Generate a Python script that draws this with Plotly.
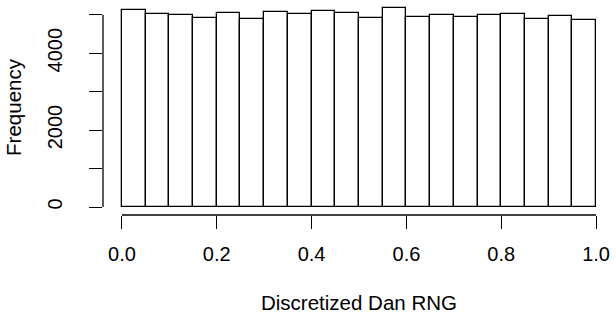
import plotly.graph_objects as go

# Histogram bins (centers) of the discretized values, bin width 0.05
bin_centers = [0.025, 0.075, 0.125, 0.175, 0.225, 0.275, 0.325, 0.375, 0.425, 0.475,
               0.525, 0.575, 0.625, 0.675, 0.725, 0.775, 0.825, 0.875, 0.925, 0.975]
bin_width = 0.05
frequency = [5112, 5008, 4992, 4922, 5052, 4878, 5060, 5018, 5096, 5044,
             4922, 5174, 4948, 4982, 4940, 5000, 5026, 4896, 4956, 4870]

x_ticks = [0.0, 0.2, 0.4, 0.6, 0.8, 1.0]
x_tick_labels = ["0.0", "0.2", "0.4", "0.6", "0.8", "1.0"]
y_ticks = [0, 1000, 2000, 3000, 4000, 5000]
y_tick_labels = ["0", "", "2000", "", "4000", ""]

FONT = "Liberation Sans, Arial, Helvetica, sans-serif"

ymax = max(frequency)
x_lo, x_hi = 0.0, 1.0
x_pad = 0.04 * (x_hi - x_lo)
y_pad = 0.04 * ymax

fig = go.Figure(
    go.Bar(
        x=bin_centers,
        y=frequency,
        width=bin_width,
        marker=dict(color="white", line=dict(color="black", width=1.3)),
        hoverinfo="x+y",
    )
)

fig.update_layout(
    width=616,
    height=314,
    margin=dict(l=103, r=1, t=0, b=99),
    paper_bgcolor="white",
    plot_bgcolor="white",
    bargap=0,
    showlegend=False,
    font=dict(family=FONT, size=20, color="black"),
    xaxis=dict(
        range=[x_lo - x_pad, x_hi + x_pad],
        tickvals=x_ticks,
        ticktext=x_tick_labels,
        ticks="outside",
        ticklen=13,
        tickwidth=1.3,
        tickcolor="black",
        showline=False,
        showgrid=False,
        zeroline=False,
        ticklabelstandoff=8,
        tickfont=dict(family=FONT, size=20, color="black"),
        title=dict(text="Discretized Dan RNG", standoff=33,
                   font=dict(family=FONT, size=20.5, color="black")),
        automargin=False,
    ),
    yaxis=dict(
        range=[-y_pad, ymax + y_pad],
        tickvals=y_ticks,
        ticktext=y_tick_labels,
        tickangle=-90,
        ticks="outside",
        ticklen=13,
        tickwidth=1.3,
        tickcolor="black",
        showline=False,
        showgrid=False,
        zeroline=False,
        ticklabelstandoff=19,
        tickfont=dict(family=FONT, size=20, color="black"),
        title=dict(text="Frequency", standoff=16,
                   font=dict(family=FONT, size=20.5, color="black")),
        automargin=False,
    ),
    shapes=[
        # R-style detached axis lines spanning only the tick range
        dict(type="line", xref="x", yref="paper", x0=x_ticks[0], x1=x_ticks[-1], y0=0, y1=0,
             line=dict(color="black", width=1.3)),
        dict(type="line", xref="paper", yref="y", x0=0, x1=0, y0=y_ticks[0], y1=y_ticks[-1],
             line=dict(color="black", width=1.3)),
    ],
)

fig.write_html("out.html", config={"displayModeBar": False},
               post_script="document.body.style.margin='0';")
